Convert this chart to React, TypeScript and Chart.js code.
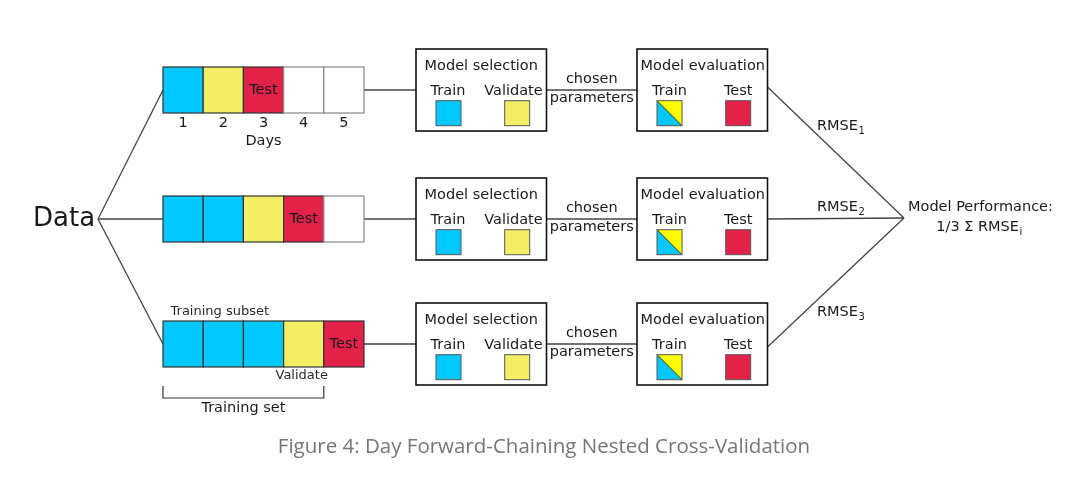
import Chart from "chart.js/auto"
import type { Plugin } from "chart.js"
import { useEffect, useRef } from "react"

// diagram content
const dayLabels = ["1", "2", "3", "4", "5"]
const folds = [
	["train", "validate", "test", "none", "none"],
	["train", "train", "validate", "test", "none"],
	["train", "train", "train", "validate", "test"],
]
const rmseIndex = ["1", "2", "3"]
const selectionParts = ["Train", "Validate"]
const evaluationParts = ["Train", "Test"]
const caption = "Figure 4: Day Forward-Chaining Nested Cross-Validation"

const COLORS: Record<string, string> = {
	train: "#00c8ff",
	validate: "#f2ee66",
	test: "#e3224a",
	none: "#ffffff",
}
const FONT = '"DejaVu Sans", sans-serif'

// layout (page pixels)
const W = 1081
const H = 487
const ROW_Y = [90, 219, 344]
const CELL_X0 = 163
const CELL_W = 40.2
const CELL_H = 46
const DATA_X = 98
const DATA_Y = 219
const SEL_X = 416
const EVAL_X = 637
const BOX_W = 130.5
const BOX_H = 82
const SQ = 25
const JOIN_X = 904
const JOIN_Y = 218

const cellsEnd = CELL_X0 + CELL_W * dayLabels.length

function connectorSets() {
	const sets: { x: number; y: number }[][] = []
	ROW_Y.forEach((y) => {
		sets.push([{ x: DATA_X, y: DATA_Y }, { x: CELL_X0, y }])
		sets.push([{ x: cellsEnd, y }, { x: SEL_X, y }])
		sets.push([{ x: SEL_X + BOX_W, y }, { x: EVAL_X, y }])
	})
	const offs = [-3, 0, 3]
	ROW_Y.forEach((y, i) => {
		sets.push([{ x: EVAL_X + BOX_W, y: y + offs[i] }, { x: JOIN_X, y: JOIN_Y }])
	})
	return sets
}

const diagramPlugin: Plugin<"scatter"> = {
	id: "diagram",
	afterDatasetsDraw(chart) {
		const ctx = chart.ctx
		const sx = chart.scales.x
		const sy = chart.scales.y
		const px = (v: number) => sx.getPixelForValue(v)
		const py = (v: number) => sy.getPixelForValue(v)

		const text = (s: string, x: number, y: number, size: number, align: CanvasTextAlign = "center", color = "#1a1a1a", family = FONT) => {
			ctx.font = `${size}px ${family}`
			ctx.fillStyle = color
			ctx.textAlign = align
			ctx.textBaseline = "middle"
			ctx.fillText(s, px(x), py(y))
		}
		const withSub = (main: string, sub: string, x: number, y: number, align: "left" | "center") => {
			ctx.font = `14.5px ${FONT}`
			const mw = ctx.measureText(main).width
			ctx.font = `10px ${FONT}`
			const sw = ctx.measureText(sub).width
			const left = align === "left" ? x : x - (mw + sw) / 2
			text(main, left, y, 14.5, "left")
			text(sub, left + mw + 0.5, y + 5, 10, "left")
		}
		const rect = (x: number, y: number, w: number, h: number, fill: string | null, stroke: string, lw: number) => {
			const x0 = px(x)
			const y0 = py(y)
			const ww = px(x + w) - x0
			const hh = py(y + h) - y0
			if (fill) {
				ctx.fillStyle = fill
				ctx.fillRect(x0, y0, ww, hh)
			}
			ctx.strokeStyle = stroke
			ctx.lineWidth = lw
			ctx.strokeRect(x0, y0, ww, hh)
		}

		ctx.save()

		// fold rows of day cells
		folds.forEach((row, r) => {
			const yTop = ROW_Y[r] - CELL_H / 2
			row.forEach((kind, c) => {
				const x = CELL_X0 + c * CELL_W
				rect(x, yTop, CELL_W, CELL_H, COLORS[kind], kind === "none" ? "#888" : "#333", 1.2)
				if (kind === "test") text("Test", x + CELL_W / 2, ROW_Y[r] + 0.5, 14.5)
			})
		})
		dayLabels.forEach((d, c) => {
			text(d, CELL_X0 + (c + 0.5) * CELL_W, ROW_Y[0] + 33.5, 14.5)
		})
		text("Days", CELL_X0 + 2.5 * CELL_W, ROW_Y[0] + 51.5, 14.5)

		// selection / evaluation boxes
		ROW_Y.forEach((y) => {
			const top = y - BOX_H / 2
			rect(SEL_X, top, BOX_W, BOX_H, "#fff", "#111", 1.6)
			rect(EVAL_X, top, BOX_W, BOX_H, "#fff", "#111", 1.6)
			text("Model selection", SEL_X + BOX_W / 2, top + 17.5, 14.5)
			text("Model evaluation", EVAL_X + BOX_W / 2 + 0.5, top + 17.5, 14.5)

			const selSq = [SEL_X + 20, SEL_X + 88.7]
			const selLbl = [SEL_X + 32, SEL_X + 97.5]
			selectionParts.forEach((p, i) => {
				text(p, selLbl[i], y + 1.5, 14.5)
				rect(selSq[i], y + 10.7, SQ, SQ, COLORS[p.toLowerCase()], "#555", 1)
			})

			const evSq = [EVAL_X + 20, EVAL_X + 88.7]
			evaluationParts.forEach((p, i) => {
				text(p, evSq[i] + SQ / 2, y + 1.5, 14.5)
				if (p === "Train") {
					const x0 = px(evSq[i])
					const y0 = py(y + 10.7)
					const s = px(evSq[i] + SQ) - x0
					ctx.fillStyle = "#ffff00"
					ctx.fillRect(x0, y0, s, s)
					ctx.beginPath()
					ctx.moveTo(x0, y0)
					ctx.lineTo(x0 + s, y0 + s)
					ctx.lineTo(x0, y0 + s)
					ctx.closePath()
					ctx.fillStyle = COLORS.train
					ctx.fill()
					ctx.strokeStyle = "#333"
					ctx.lineWidth = 1
					ctx.beginPath()
					ctx.moveTo(x0, y0)
					ctx.lineTo(x0 + s, y0 + s)
					ctx.stroke()
					ctx.strokeStyle = "#555"
					ctx.strokeRect(x0, y0, s, s)
				} else {
					rect(evSq[i], y + 10.7, SQ, SQ, COLORS.test, "#555", 1)
				}
			})

			const mid = (SEL_X + BOX_W + EVAL_X) / 2
			text("chosen", mid, y - 10.5, 14.5)
			text("parameters", mid, y + 8.5, 14.5)
		})

		// data root
		text("Data", 33, DATA_Y, 26, "left")

		// RMSE labels
		const rmseY = [126, 207, 312]
		rmseIndex.forEach((k, i) => withSub("RMSE", k, 817, rmseY[i], "left"))
		text("Model Performance:", 908, 207, 14.5, "left")
		withSub("1/3 \u03a3 RMSE", "i", 979, 227, "center")

		// training subset annotations on the last fold
		const lastY = ROW_Y[2]
		text("Training subset", CELL_X0 + 7.5, lastY - 32, 13, "left", "#2a2a2a")
		text("Validate", CELL_X0 + 3.45 * CELL_W, lastY + 32, 13, "center", "#2a2a2a")
		const bx0 = px(CELL_X0)
		const bx1 = px(CELL_X0 + 4 * CELL_W)
		const bTop = py(lastY + 42)
		const bBot = py(lastY + 54)
		ctx.strokeStyle = "#333"
		ctx.lineWidth = 1.2
		ctx.beginPath()
		ctx.moveTo(bx0, bTop)
		ctx.lineTo(bx0, bBot)
		ctx.lineTo(bx1, bBot)
		ctx.lineTo(bx1, bTop)
		ctx.stroke()
		text("Training set", CELL_X0 + 2 * CELL_W, lastY + 64.5, 14.5)

		// caption
		text(caption, W / 2 + 3.5, 447, 20.5, "center", "#767676", '"Open Sans", sans-serif')

		ctx.restore()
	},
}

export default function App() {
	const canvasRef = useRef<HTMLCanvasElement>(null)

	useEffect(() => {
		if (!canvasRef.current) return
		const ctx = canvasRef.current.getContext("2d")
		if (!ctx) return

		const chart = new Chart(ctx, {
			type: "scatter",
			data: {
				datasets: connectorSets().map((pts) => ({
					data: pts,
					showLine: true,
					borderColor: "#444",
					borderWidth: 1.3,
					pointRadius: 0,
				})),
			},
			options: {
				animation: false,
				responsive: true,
				maintainAspectRatio: false,
				layout: { padding: 0 },
				plugins: {
					legend: { display: false },
					tooltip: { enabled: false },
				},
				scales: {
					x: { type: "linear", min: 0, max: W, display: false },
					y: { type: "linear", min: 0, max: H, reverse: true, display: false },
				},
			},
			plugins: [diagramPlugin],
		})

		return () => {
			chart.destroy()
		}
	}, [])

	return (
		<div style={{ position: "fixed", left: 0, top: 0, width: W, height: H, background: "#fff" }}>
			<canvas ref={canvasRef} />
		</div>
	)
}
